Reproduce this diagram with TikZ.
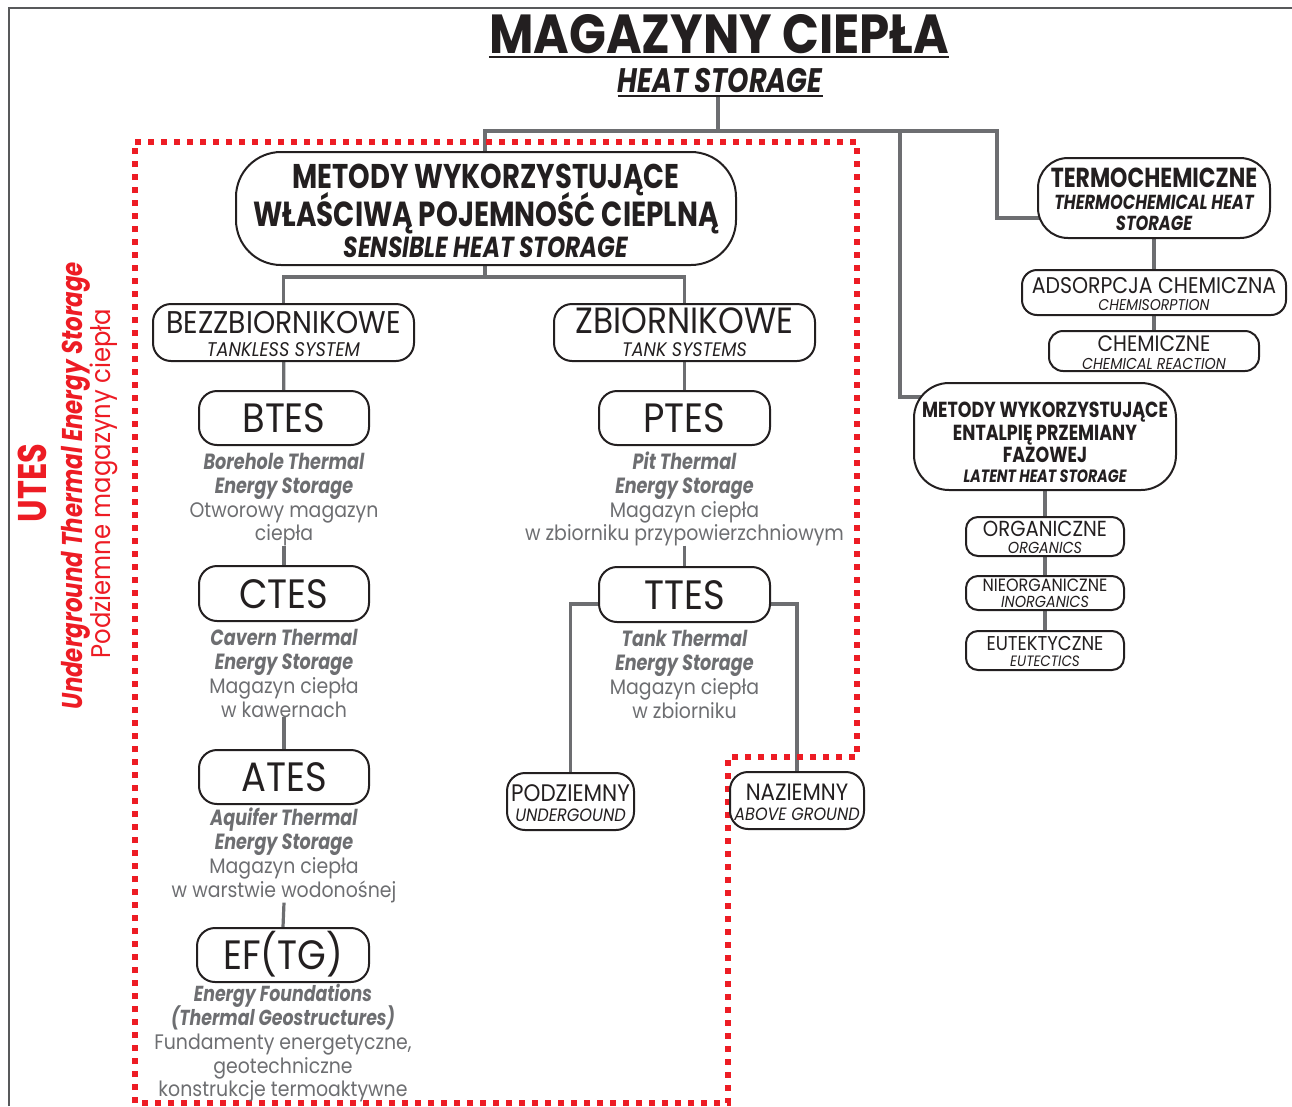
\documentclass[tikz,border=0pt]{standalone}
\usepackage{fontspec}
\setmainfont{Poppins}[FakeStretch=0.9]
\newfontfamily\bfam{Poppins}[FakeStretch=0.8]
\newfontfamily\tfam{Poppins}[FakeStretch=0.88]
\usetikzlibrary{backgrounds}
\definecolor{ink}{HTML}{231F20}
\definecolor{conng}{HTML}{6D6E71}
\definecolor{utesred}{HTML}{ED1C24}
\definecolor{framec}{HTML}{58595B}
\newcommand\myrg[1]{\fontsize{#1}{#1}\selectfont}
\newcommand\myit[1]{\fontsize{#1}{#1}\selectfont\itshape}
\newcommand\mybf[1]{\bfam\bfseries\fontsize{#1}{#1}\selectfont}
\newcommand\mybi[1]{\bfam\bfseries\itshape\fontsize{#1}{#1}\selectfont}
\tikzset{
  box/.style={draw=ink, line width=2pt, fill=white, rounded corners=#1, inner sep=0pt},
  box/.default=18pt,
  conn/.style={draw=conng, line width=3.2pt},
  lbl/.style={anchor=base, inner sep=0pt, text=ink},
  dsc/.style={anchor=base, inner sep=0pt, text=conng},
  redl/.style={anchor=base, inner sep=0pt, text=utesred, rotate=90},
  reddot/.style={draw=utesred, line width=6pt, dash pattern=on 6pt off 7pt},
}
\begin{document}
\begin{tikzpicture}[x=1pt,y=-1pt]
\useasboundingbox (0,0) rectangle (1292,1106);
% frame
\draw[framec, line width=1.5pt] (9,1106) -- (9,8) -- (1292,8);

% title
\node[lbl, font={\tfam\bfseries\fontsize{55}{55}\selectfont}] (title) at (719,53) {MAGAZYNY CIEPŁA};
\draw[ink, line width=2.5pt] ([yshift=-4pt]title.base west) -- ([yshift=-4pt]title.base east);
\node[lbl, font={\mybi{34}}, text depth=4pt] (heat) at (720,92) {HEAT STORAGE};
\draw[ink, line width=2pt] ([yshift=-3.5pt]heat.base west) -- ([yshift=-3.5pt]heat.base east);

% boxes
\node[box=45pt, minimum width=500pt, minimum height=113pt] (sensible) at (486,208.5) {};
\node[box, minimum width=261pt, minimum height=57pt] (bezz) at (283.5,332.5) {};
\node[box, minimum width=261pt, minimum height=57pt] (zbior) at (684.5,332.5) {};
\node[box, minimum width=170pt, minimum height=54pt] (btes) at (284,418) {};
\node[box, minimum width=170pt, minimum height=55pt] (ctes) at (284,593.5) {};
\node[box, minimum width=170pt, minimum height=54pt] (ates) at (284,777) {};
\node[box, minimum width=172pt, minimum height=54pt] (eftg) at (283,955) {};
\node[box, minimum width=171pt, minimum height=54pt] (ptes) at (684.5,418) {};
\node[box, minimum width=171pt, minimum height=55pt] (ttes) at (684.5,594.5) {};
\node[box, minimum width=127pt, minimum height=57pt] (podz) at (570.5,801.5) {};
\node[box, minimum width=134pt, minimum height=57pt] (naz) at (797,800.5) {};
\node[box=30pt, minimum width=232pt, minimum height=80pt] (termo) at (1154,198) {};
\node[box=15pt, minimum width=264pt, minimum height=45pt] (ads) at (1154,292.5) {};
\node[box=14pt, minimum width=210pt, minimum height=40pt] (chem) at (1154,351) {};
\node[box=35pt, minimum width=262pt, minimum height=107pt] (latent) at (1045,436.5) {};
\node[box=12pt, minimum width=158pt, minimum height=39pt] (org) at (1045,536.5) {};
\node[box=12pt, minimum width=158pt, minimum height=34pt] (nie) at (1045,593) {};
\node[box=12pt, minimum width=158pt, minimum height=39pt] (eut) at (1045,650.5) {};

% box texts
\node[lbl, font={\mybf{34.3}}] (sens1) at (486,188) {METODY WYKORZYSTUJĄCE};
\node[lbl, font={\mybf{34.8}}] (sens2) at (486,226) {WŁAŚCIWĄ POJEMNOŚĆ CIEPLNĄ};
\node[lbl, font={\mybi{29}}] (sens3) at (486,257) {SENSIBLE HEAT STORAGE};
\node[lbl, font={\myrg{31.4}}] (bezz1) at (283.5,333) {BEZZBIORNIKOWE};
\node[lbl, font={\myit{19.8}}] (bezz2) at (283.5,356) {TANKLESS SYSTEM};
\node[lbl, font={\myrg{36.5}}] (zbior1) at (684.5,333) {ZBIORNIKOWE};
\node[lbl, font={\myit{19.6}}] (zbior2) at (684.5,356) {TANK SYSTEMS};
\node[lbl, font={\myrg{41}}] (btes1) at (284,432.5) {BTES};
\node[lbl, font={\myrg{41}}] (ctes1) at (284,608) {CTES};
\node[lbl, font={\myrg{41}}] (ates1) at (284,791.5) {ATES};
\node[lbl, font={\myrg{41}}] (eftg1) at (283,969.5) {EF(TG)};
\node[lbl, font={\myrg{41}}] (ptes1) at (684.5,432.5) {PTES};
\node[lbl, font={\myrg{41}}] (ttes1) at (684.5,609) {TTES};
\node[lbl, font={\myrg{23.9}}] (podz1) at (570.5,801) {PODZIEMNY};
\node[lbl, font={\myit{17.9}}] (podz2) at (570.5,821) {UNDERGOUND};
\node[lbl, font={\myrg{23.6}}] (naz1) at (797,800) {NAZIEMNY};
\node[lbl, font={\myit{17.8}}] (naz2) at (797,820) {ABOVE GROUND};
\node[lbl, font={\mybf{27.5}}] (termo1) at (1154,187) {TERMOCHEMICZNE};
\node[lbl, font={\mybi{20.3}}] (termo2) at (1154,209) {THERMOCHEMICAL HEAT};
\node[lbl, font={\mybi{20.3}}] (termo3) at (1154,230) {STORAGE};
\node[lbl, font={\myrg{22.7}}] (ads1) at (1154,293) {ADSORPCJA CHEMICZNA};
\node[lbl, font={\myit{15.6}}] (ads2) at (1154,310) {CHEMISORPTION};
\node[lbl, font={\myrg{22.3}}] (chem1) at (1154,351) {CHEMICZNE};
\node[lbl, font={\myit{15.8}}] (chem2) at (1154,369) {CHEMICAL REACTION};
\node[lbl, font={\mybf{21.8}}] (lat1) at (1045,417) {METODY WYKORZYSTUJĄCE};
\node[lbl, font={\mybf{21.8}}] (lat2) at (1045,440) {ENTALPIĘ PRZEMIANY};
\node[lbl, font={\mybf{21.8}}] (lat3) at (1045,462) {FAZOWEJ};
\node[lbl, font={\mybi{17.8}}] (lat4) at (1045,482) {LATENT HEAT STORAGE};
\node[lbl, font={\myrg{21.8}}] (org1) at (1045,536) {ORGANICZNE};
\node[lbl, font={\myit{16}}] (org2) at (1045,553) {ORGANICS};
\node[lbl, font={\myrg{17.8}}] (nie1) at (1045,591) {NIEORGANICZNE};
\node[lbl, font={\myit{16}}] (nie2) at (1045,607) {INORGANICS};
\node[lbl, font={\myrg{20}}] (eut1) at (1045,650) {EUTEKTYCZNE};
\node[lbl, font={\myit{15}}] (eut2) at (1045,666) {EUTECTICS};

% descriptions
\node[dsc, font={\mybi{22}}] (btesd1) at (284,469) {Borehole Thermal};
\node[dsc, font={\mybi{22}}] (btesd2) at (284,493) {Energy Storage};
\node[dsc, font={\myrg{21}}] (btesd3) at (284,517) {Otworowy magazyn};
\node[dsc, font={\myrg{21}}] (btesd4) at (284,540) {ciepła};
\node[dsc, font={\mybi{22}}] (ctesd1) at (284,645) {Cavern Thermal};
\node[dsc, font={\mybi{22}}] (ctesd2) at (284,669) {Energy Storage};
\node[dsc, font={\myrg{21}}] (ctesd3) at (284,693) {Magazyn ciepła};
\node[dsc, font={\myrg{21}}] (ctesd4) at (284,717) {w kawernach};
\node[dsc, font={\mybi{22}}] (atesd1) at (284,825) {Aquifer Thermal};
\node[dsc, font={\mybi{22}}] (atesd2) at (284,849) {Energy Storage};
\node[dsc, font={\myrg{21}}] (atesd3) at (284,873) {Magazyn ciepła};
\node[dsc, font={\myrg{21}}] (atesd4) at (284,897) {w warstwie wodonośnej};
\node[dsc, font={\mybi{21.7}}] (eftgd1) at (283,1001) {Energy Foundations};
\node[dsc, font={\mybi{21.7}}] (eftgd2) at (283,1025) {(Thermal Geostructures)};
\node[dsc, font={\myrg{21}}] (eftgd3) at (283,1049) {Fundamenty energetyczne,};
\node[dsc, font={\myrg{21}}] (eftgd4) at (283,1073) {geotechniczne};
\node[dsc, font={\myrg{21}}] (eftgd5) at (283,1096) {konstrukcje termoaktywne};
\node[dsc, font={\mybi{22}}] (ptesd1) at (684.5,469) {Pit Thermal};
\node[dsc, font={\mybi{22}}] (ptesd2) at (684.5,493) {Energy Storage};
\node[dsc, font={\myrg{21}}] (ptesd3) at (684.5,517) {Magazyn ciepła};
\node[dsc, font={\myrg{21}}] (ptesd4) at (684.5,540) {w zbiorniku przypowierzchniowym};
\node[dsc, font={\mybi{22}}] (ttesd1) at (684.5,646) {Tank Thermal};
\node[dsc, font={\mybi{22}}] (ttesd2) at (684.5,670) {Energy Storage};
\node[dsc, font={\myrg{21}}] (ttesd3) at (684.5,694) {Magazyn ciepła};
\node[dsc, font={\myrg{21}}] (ttesd4) at (684.5,718) {w zbiorniku};

% UTES side label
\node[redl, font={\mybf{40}}] (utes) at (46,483) {UTES};
\node[redl, font={\mybi{28.6}}] (utesen) at (82,485.5) {Underground Thermal Energy Storage};
\node[redl, font={\myrg{27}}] (utespl) at (110,483.5) {Podziemne magazyny ciepła};

% connectors and UTES boundary
\begin{scope}[on background layer]
\coordinate (bus) at (718,131);
\coordinate (tcj) at (997,218);
\coordinate (lj) at (900,397);
\coordinate (sj) at (485,277);
\coordinate (tty) at (684.5,604);
\draw[conn] (heat.south -| bus) -- (bus);
\draw[conn] (sensible.center -| sj) |- (bus) -| (tcj) -- (tcj -| termo.center);
\draw[conn] (bus -| lj) -- (lj) -- (lj -| latent.center);
\draw[conn] (termo.center) -- (chem.center);
\draw[conn] (latent.center) -- (eut.center);
\draw[conn] (sensible.center -| sj) -- (sj);
\draw[conn] (bezz.center) |- (sj) -| (zbior.center);
\draw[conn] (bezz.center) -- (btes.center);
\draw[conn] (btesd4.south) -- (ctes.north);
\draw[conn] (ctesd4.south) -- (ates.north);
\draw[conn] (atesd4.south) -- (eftg.north);
\draw[conn] (zbior.center) -- (ptes.center);
\draw[conn] (ptesd4.south) -- (ttes.north);
\draw[conn] (podz.center) |- (tty) -| (naz.center);
\draw[reddot] (135,142) -- (857,142) -- (857,757) -- (728,757) -- (728,1103) -- (135,1103) -- cycle;
\end{scope}
\end{tikzpicture}
\end{document}
